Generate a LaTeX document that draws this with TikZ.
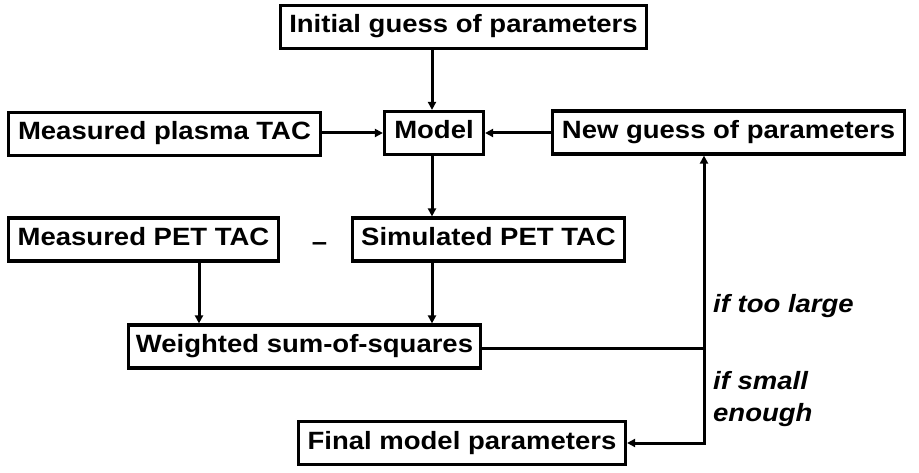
\documentclass[tikz,border=0pt]{standalone}
\usepackage{fontspec}
\setmainfont[FakeStretch=1.1]{Liberation Sans}
\usetikzlibrary{arrows.meta}
\begin{document}
\begin{tikzpicture}[x=1pt,y=-1pt,
  box/.style={draw, line width=3.2pt, inner sep=0pt, minimum height=43pt,
    text height=17pt, text depth=5pt,
    font=\fontsize{25}{30}\selectfont\bfseries},
  arr/.style={line width=3pt, -{Triangle[length=8pt,width=8pt]}},
  ln/.style={line width=3pt},
  lbl/.style={font=\fontsize{25}{32}\selectfont\bfseries\itshape, inner sep=0pt, align=left}]
\useasboundingbox (0,0) rectangle (919,473);
\node[box, minimum width=366pt] (init) at (463.5,27) {Initial guess of parameters};
\node[box, minimum width=99pt] (model) at (434,133) {Model};
\node[box, minimum width=312pt] (plasma) at (164.5,134) {Measured plasma TAC};
\node[box, minimum width=352pt] (new) at (728.5,132.5) {New guess of parameters};
\node[box, minimum width=270pt] (pet) at (143.5,239.5) {Measured PET TAC};
\node[box, minimum width=272pt] (sim) at (488.5,239.5) {Simulated PET TAC};
\node[box, minimum width=352pt] (wsum) at (304.5,346.5) {Weighted sum-of-squares};
\node[box, minimum width=327pt] (final) at (462,443) {Final model parameters};
\node[font=\fontsize{25}{30}\selectfont\bfseries, inner sep=0pt, anchor=base] (minus) at (319.5,251) {–};
\node[lbl, anchor=west] (large) at (713,306) {if too large};
\node[lbl, anchor=north west] (small) at (713,371) {if small\\enough};
\coordinate (cx1) at (432,0);
\coordinate (cx2) at (199,0);
\coordinate (j) at (704,348);
\draw[arr] (init.south -| cx1) -- (model.north -| cx1);
\draw[arr] (plasma.east |- model.west) -- (model.west);
\draw[arr] (new.west |- model.east) -- (model.east);
\draw[arr] (model.south -| cx1) -- (sim.north -| cx1);
\draw[arr] (pet.south -| cx2) -- (wsum.north -| cx2);
\draw[arr] (sim.south -| cx1) -- (wsum.north -| cx1);
\draw[ln] (wsum.east |- j) -- (j);
\draw[arr] (j) -- (new.south -| j);
\draw[arr] (j) |- (final.east);
\end{tikzpicture}
\end{document}
